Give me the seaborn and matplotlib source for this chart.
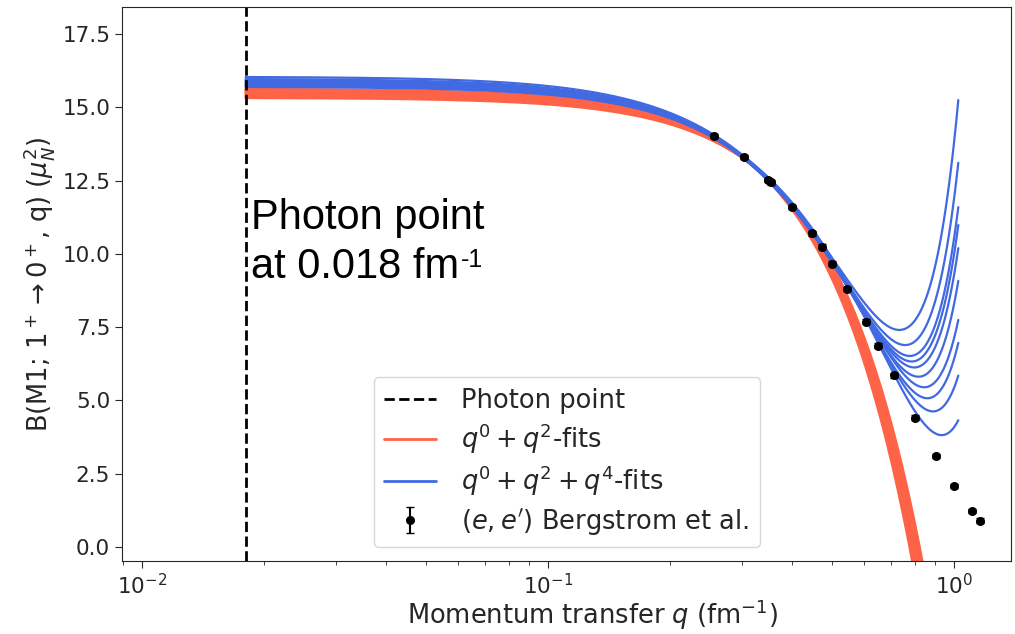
import numpy as np
import pandas as pd
import matplotlib
matplotlib.use("Agg")
import matplotlib.pyplot as plt
from matplotlib.lines import Line2D
import seaborn as sns

# ---- data ----
photon_q = 0.018

# (e,e') Bergstrom et al. data points
data_q = [0.2568, 0.3040, 0.3488, 0.3542, 0.3996, 0.4477, 0.4721, 0.5013, 0.5460,
          0.6060, 0.6498, 0.7116, 0.8029, 0.9014, 1.0000, 1.1055, 1.1590]
data_B = [14.03, 13.31, 12.52, 12.45, 11.60, 10.70, 10.25, 9.67, 8.80,
          7.69, 6.87, 5.86, 4.41, 3.10, 2.08, 1.23, 0.90]
data_err = [0.08] * len(data_q)

# q^0 + q^2 fits: B = a + b q^2
red_a = [15.33, 15.36, 15.39, 15.42, 15.45, 15.48, 15.50, 15.53, 15.56, 15.59, 15.62, 15.64]
red_b = [-22.6, -22.9, -23.2, -23.5, -23.8, -24.1, -24.4, -24.7, -25.0, -25.3, -25.6, -25.9]

# q^0 + q^2 + q^4 fits: B = a + b q^2 + c q^4
blue_a = [16.05, 15.98, 15.93, 15.90, 15.86, 15.83, 15.80, 15.77, 15.74, 15.71]
blue_b = [-32.13, -31.62, -31.08, -30.93, -30.51, -29.97, -28.99, -28.92, -28.17, -27.33]
blue_c = [29.86, 27.50, 25.66, 24.99, 23.91, 22.41, 20.30, 19.55, 17.85, 15.70]

q_min, q_max = 0.018, 1.025

# ---- build curves ----
qq = np.geomspace(q_min, q_max, 400)
rows = []
for i, (a, b) in enumerate(zip(red_a, red_b)):
    rows.append(pd.DataFrame({"q": qq, "B": a + b * qq**2, "fit": i}))
df_red = pd.concat(rows, ignore_index=True)
rows = []
for i, (a, b, c) in enumerate(zip(blue_a, blue_b, blue_c)):
    rows.append(pd.DataFrame({"q": qq, "B": a + b * qq**2 + c * qq**4, "fit": i}))
df_blue = pd.concat(rows, ignore_index=True)

sns.set_style("ticks")
plt.rcParams["font.family"] = ["DejaVu Sans"]

fig = plt.figure(figsize=(10.15, 6.34), dpi=100)
ax = fig.add_axes([122/1015, 1 - 561/634, (1011-122)/1015, (561-7)/634])

red_col = "tomato"
blue_col = "royalblue"

sns.lineplot(data=df_red, x="q", y="B", units="fit", estimator=None,
             color=red_col, lw=1.6, legend=False, ax=ax, sort=False)
sns.lineplot(data=df_blue, x="q", y="B", units="fit", estimator=None,
             color=blue_col, lw=1.6, legend=False, ax=ax, sort=False)

ax.axvline(photon_q, color="black", ls="--", lw=2)

eb = ax.errorbar(data_q, data_B, yerr=data_err, fmt="o", color="black",
                 ms=5.5, capsize=3, elinewidth=1.5, zorder=5)

ax.set_xscale("log")
ax.set_xlim(0.00893, 1.382)
ax.set_ylim(-0.48, 18.43)
ax.set_yticks([0, 2.5, 5, 7.5, 10, 12.5, 15, 17.5])
ax.tick_params(axis="both", which="major", labelsize=15.5, length=5)
ax.tick_params(axis="x", which="minor", length=3)

ax.set_xlabel(r"Momentum transfer $q$ (fm$^{-1}$)", fontsize=18.5, va="top")
ax.xaxis.set_label_coords(0.529, -0.066)
ax.set_ylabel(r"B(M1; 1$^+$$\rightarrow$0$^+$, q) ($\mu_N^2$)", fontsize=18.5)

handles = [
    Line2D([], [], color="black", ls="--", lw=2),
    Line2D([], [], color=red_col, lw=2),
    Line2D([], [], color=blue_col, lw=2),
    eb,
]
labels = ["Photon point", r"$q^0 + q^2$-fits", r"$q^0 + q^2 + q^4$-fits",
          r"$(e, e')$ Bergstrom et al."]
ax.legend(handles, labels, loc="lower left", bbox_to_anchor=(0.2835, 0.0253),
          borderaxespad=0, fontsize=18.5, labelspacing=0.3, handletextpad=1.0)

t1 = ax.text(0.0186, 11.9, "Photon point", family="Liberation Sans",
             fontsize=30, va="top", ha="left", color="black")
t2 = ax.text(0.0186, 10.25, "at 0.018 fm", family="Liberation Sans",
             fontsize=30, va="top", ha="left", color="black")
ax.annotate("-1", xy=(1, 1), xycoords=t2, xytext=(1, -1), textcoords="offset points",
            family="Liberation Sans", fontsize=18, va="top", ha="left", color="black")

fig.savefig("out.png", dpi=100)
